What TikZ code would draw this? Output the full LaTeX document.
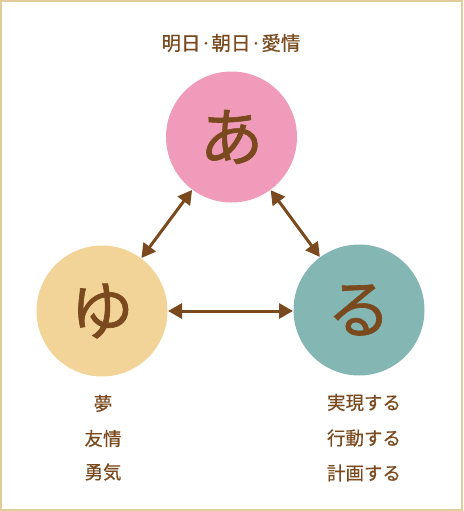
\documentclass[tikz,border=0pt]{standalone}
\usepackage{fontspec}
\setmainfont{Noto Sans CJK JP}
\newfontfamily\cjk[FakeBold=0.5]{Noto Sans CJK JP}
\newfontfamily\cjkbig[FakeBold=1]{Noto Sans CJK JP}
\usetikzlibrary{arrows.meta}
\definecolor{brn}{HTML}{7A4A1E}
\definecolor{pinkc}{HTML}{EF9BB9}
\definecolor{yelc}{HTML}{F3D498}
\definecolor{tealc}{HTML}{84B6B4}
\definecolor{frame}{HTML}{E2CC9A}
\tikzset{
  bigcirc/.style={circle, minimum size=131pt, inner sep=0pt, outer sep=0.5pt, text=brn, font=\cjkbig\fontsize{64}{64}\selectfont},
  lbl/.style={text=brn, inner sep=0pt, font=\cjk\fontsize{18.5}{18.5}\selectfont},
  dbl/.style={draw=brn, line width=3pt, {Triangle[length=14pt,width=15pt]}-{Triangle[length=14pt,width=15pt]}}
}
\begin{document}
\begin{tikzpicture}[x=1pt,y=-1pt]
\useasboundingbox (0,0) rectangle (463,511);
\draw[frame, line width=2pt] (1,1) rectangle (462,510);
\node[bigcirc, fill=pinkc] (a) at (231.5,137) {あ};
\node[bigcirc, fill=yelc] (y) at (102,311) {ゆ};
\node[bigcirc, fill=tealc] (r) at (359,310) {る};
\node[lbl, font=\cjk\fontsize{19.5}{19.5}\selectfont] (top) at (231,43) {明日·朝日·愛情};
\node[lbl] (l1) at (103,403.5) {夢};
\node[lbl] (l2) at (103,438.5) {友情};
\node[lbl] (l3) at (103,472) {勇気};
\node[lbl] (r1) at (364,402.5) {実現する};
\node[lbl] (r2) at (364,438) {行動する};
\node[lbl] (r3) at (364,473) {計画する};
\draw[dbl] (a) -- (y);
\draw[dbl] (a) -- (r);
\draw[dbl] (y.east) -- (r.west |- y.east);
\end{tikzpicture}
\end{document}
